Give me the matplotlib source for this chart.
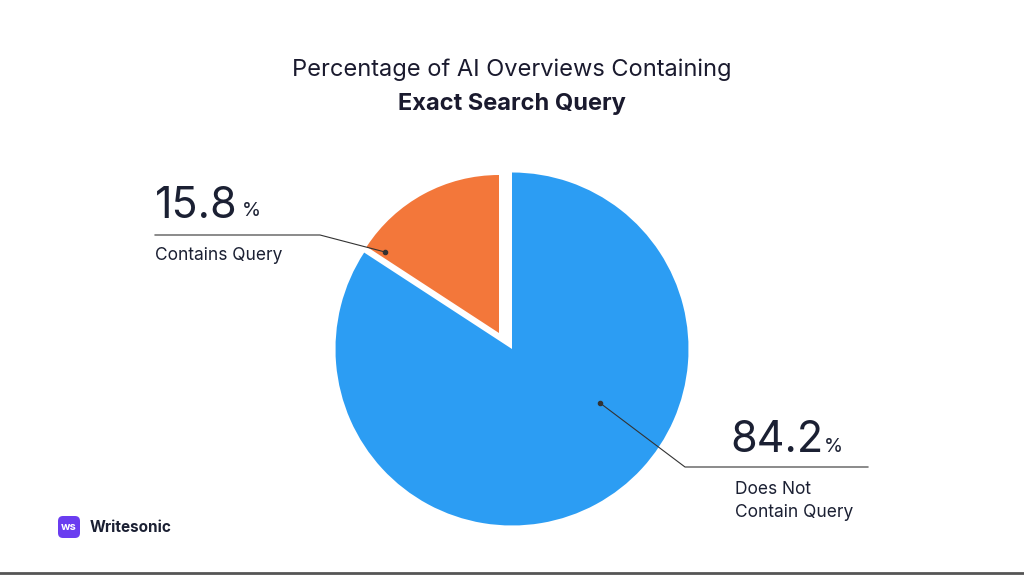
import matplotlib.pyplot as plt
from matplotlib.patches import FancyBboxPatch

labels = ["Contains Query", "Does Not\nContain Query"]
values = [15.8, 84.2]
colors = ["#F3773A", "#2C9DF3"]
title1 = "Percentage of AI Overviews Containing"
title2 = "Exact Search Query"

W, H = 1024, 576
fig = plt.figure(figsize=(W/100, H/100), dpi=100)
ax = fig.add_axes([0, 0, 1, 1])
def Y(y): return H - y

# main (blue) slice
ax.pie(values, colors=["none", colors[1]], startangle=90, counterclock=True,
       center=(512, Y(349)), radius=176.5, wedgeprops=dict(linewidth=0), frame=True)
# pulled-out (orange) slice, slightly smaller
ax.pie(values, colors=[colors[0], "none"], startangle=90, counterclock=True,
       center=(499, Y(333)), radius=158, wedgeprops=dict(linewidth=0), frame=True)
ax.set_xlim(0, W); ax.set_ylim(0, H); ax.set_aspect("equal"); ax.axis("off")

ff = "Inter"
ax.text(512, Y(70), title1, ha="center", va="center", fontsize=17, color="#1a1a2e", family=ff)
ax.text(512, Y(104), title2, ha="center", va="center", fontsize=17, color="#1a1a2e", family=ff, fontweight="bold")

dark = "#1b2033"
ax.text(155, Y(206), f"{values[0]}", ha="left", va="center", fontsize=31, color=dark, family=ff)
ax.text(242, Y(211), "%", ha="left", va="center", fontsize=14, color=dark, family=ff)
ax.text(155, Y(255), labels[0], ha="left", va="center", fontsize=12.5, color=dark, family=ff)
ax.plot([155, 320, 385], [Y(235), Y(235), Y(252)], color="#333", lw=0.8)
ax.plot([385], [Y(252)], "o", color="#333", ms=3)

ax.text(730, Y(440), f"{values[1]}", ha="left", va="center", fontsize=31, color=dark, family=ff)
ax.text(824, Y(447), "%", ha="left", va="center", fontsize=14, color=dark, family=ff)
ax.text(735, Y(501), labels[1], ha="left", va="center", fontsize=12.5, color=dark, family=ff, linespacing=1.4)
ax.plot([868, 685, 600], [Y(467), Y(467), Y(403)], color="#333", lw=0.8)
ax.plot([600], [Y(403)], "o", color="#333", ms=3)

ax.add_patch(FancyBboxPatch((58, Y(538)), 22, 22, boxstyle="round,pad=0,rounding_size=5",
                            color="#6a3df0", lw=0))
ax.text(69, Y(527), "ws", ha="center", va="center", fontsize=8, color="white", fontweight="bold", family=ff)
ax.text(90, Y(527), "Writesonic", ha="left", va="center", fontsize=11, color=dark, fontweight="bold", family=ff)
ax.plot([0, W], [Y(573), Y(573)], color="#555", lw=2)

fig.savefig("out.png", dpi=100, facecolor="white")
